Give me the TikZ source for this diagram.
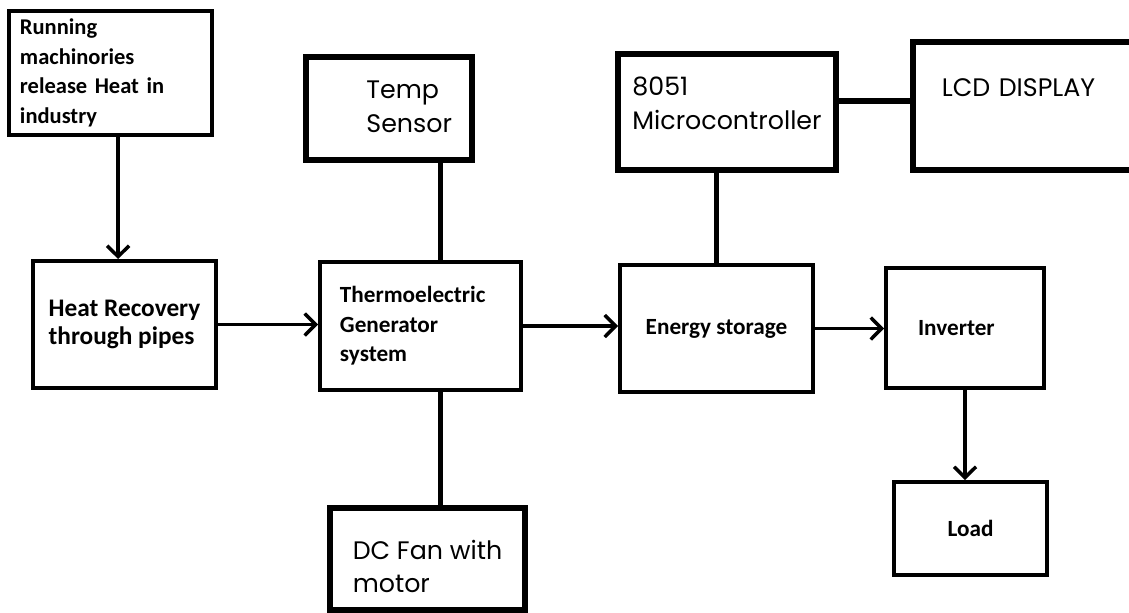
\documentclass[tikz,border=0pt]{standalone}
\usepackage{fontspec}
\setmainfont{Carlito}
\newfontfamily\gothic{Poppins}
\usetikzlibrary{arrows.meta}
\begin{document}
\begin{tikzpicture}[x=0.025cm, y=-0.025cm,
    main/.style = {draw, rectangle, line width=2.8pt, align=left, inner sep=0pt, font=\fontsize{16.5}{21}\selectfont\bfseries},
    heavy/.style = {main, line width=4pt, font=\gothic\fontsize{18}{24}\selectfont},
    arr/.style = {-{Straight Barb[length=0.27cm, width=0.55cm]}, line width=2.5pt},
    link/.style = {line width=3.6pt}]
    \useasboundingbox (0,0) rectangle (1129,612);
    % heat path
    \node[main, minimum width=5.075cm, minimum height=3.1cm, text width=4.525cm, inner xsep=0.275cm, font=\fontsize{16}{21}\selectfont\bfseries] (1) at (110.5,73) {Running\\machinories\\release Heat in\\industry};
    \node[main, minimum width=4.575cm, minimum height=3.175cm, font=\fontsize{18}{20}\selectfont\bfseries] (2) at (124.5,324.5) {Heat Recovery\\through pipes};
    \node[main, minimum width=5.025cm, minimum height=3.2cm, text width=4.025cm, inner xsep=0.5cm] (3) at (420.5,326) {Thermoelectric\\Generator\\system};
    \node[heavy, minimum width=4.15cm, minimum height=2.575cm, text width=3.15cm, inner xsep=0.5cm, align=right] (4) at (389,108.5) {\begin{tabular}{@{}l@{}}Temp\\Sensor\end{tabular}};
    \node[heavy, minimum width=4.875cm, minimum height=2.55cm, text height=1.7cm] (5) at (427.5,559) {DC Fan with\\motor};
    % control and output
    \node[heavy, minimum width=5.45cm, minimum height=2.9cm, text depth=0.45cm] (6) at (727,112) {8051\\Microcontroller};
    \node[heavy, minimum width=5.675cm, minimum height=3.2cm, text width=4.225cm, inner xsep=0.725cm, text depth=0.9cm] (7) at (1026.5,106) {LCD DISPLAY};
    \node[main, minimum width=4.825cm, minimum height=3.175cm] (8) at (716.5,328.5) {Energy storage};
    \node[main, minimum width=3.95cm, minimum height=3cm, text width=2.35cm, inner xsep=0.8cm] (9) at (965,328) {Inverter};
    \node[main, minimum width=3.825cm, minimum height=2.325cm] (10) at (970.5,528.5) {Load};
    \draw[arr] ([xshift=0.19cm]1.south) -- ([xshift=0.19cm]1.south |- 2.north);
    \draw[arr] (2.east) -- (2.east -| 3.west);
    \draw[link] ([xshift=0.49cm]3.north |- 4.south) -- ([xshift=0.49cm]3.north);
    \draw[link] ([xshift=0.49cm]3.south) -- ([xshift=0.49cm]3.south |- 5.north);
    \draw[arr] (3.east) -- (3.east -| 8.west);
    \draw[link] (8.north) -- (8.north |- 6.south);
    \draw[link] ([yshift=0.275cm]6.east) -- ([yshift=0.275cm]6.east -| 7.west);
    \draw[arr] (8.east) -- (8.east -| 9.west);
    \draw[arr] (9.south) -- (9.south |- 10.north);
\end{tikzpicture}
\end{document}
